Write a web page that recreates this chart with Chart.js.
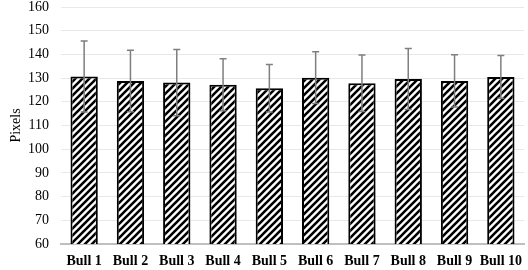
<!DOCTYPE html>
<html lang="en">
<head>
<meta charset="utf-8">
<title>Pixels per bull</title>
<script src="https://cdn.jsdelivr.net/npm/chart.js@4.4.1/dist/chart.umd.min.js"></script>
<style>
  html, body { margin: 0; padding: 0; background: #fff; }
  #wrap { position: relative; width: 528px; height: 270px; }
</style>
</head>
<body>
<div id="wrap"><canvas id="chart"></canvas></div>
<script>
// data
var bulls = ['Bull 1', 'Bull 2', 'Bull 3', 'Bull 4', 'Bull 5', 'Bull 6', 'Bull 7', 'Bull 8', 'Bull 9', 'Bull 10'];
var means = [130.7, 128.8, 128.1, 127.2, 125.7, 130.2, 127.8, 129.6, 128.8, 130.5];
var sds = [15.0, 13.0, 14.0, 11.0, 10.0, 10.9, 11.9, 12.9, 11.0, 9.0];
var yTicks = [60, 70, 80, 90, 100, 110, 120, 130, 140, 150, 160];

// hatch pattern "/" black on white
function hatch() {
  var c = document.createElement('canvas');
  c.width = 7; c.height = 7;
  var g = c.getContext('2d');
  g.fillStyle = '#fff';
  g.fillRect(0, 0, 7, 7);
  g.strokeStyle = '#000';
  g.lineWidth = 2.6;
  g.beginPath();
  g.moveTo(0, 7); g.lineTo(7, 0);
  g.moveTo(-3.5, 3.5); g.lineTo(3.5, -3.5);
  g.moveTo(3.5, 10.5); g.lineTo(10.5, 3.5);
  g.stroke();
  return g.createPattern(c, 'repeat');
}

// error bars with caps on both ends
var errorBars = {
  id: 'errorBars',
  afterDatasetsDraw: function (chart) {
    var ctx = chart.ctx;
    var y = chart.scales.y;
    var meta = chart.getDatasetMeta(0);
    ctx.save();
    ctx.strokeStyle = '#7f7f7f';
    ctx.lineWidth = 1.5;
    meta.data.forEach(function (bar, i) {
      var top = y.getPixelForValue(means[i] + sds[i]);
      var bot = y.getPixelForValue(means[i] - sds[i]);
      ctx.beginPath();
      ctx.moveTo(bar.x, top); ctx.lineTo(bar.x, bot);
      ctx.moveTo(bar.x - 3.5, top); ctx.lineTo(bar.x + 3.5, top);
      ctx.moveTo(bar.x - 3.5, bot); ctx.lineTo(bar.x + 3.5, bot);
      ctx.stroke();
    });
    ctx.restore();
  }
};

Chart.defaults.font.family = '"Liberation Serif", "Times New Roman", serif';
Chart.defaults.color = '#000';

new Chart(document.getElementById('chart'), {
  type: 'bar',
  data: {
    labels: bulls,
    datasets: [{
      data: means,
      backgroundColor: hatch(),
      borderColor: '#000',
      borderWidth: 2,
      borderSkipped: false,
      categoryPercentage: 1,
      barPercentage: 0.59
    }]
  },
  options: {
    responsive: true,
    maintainAspectRatio: false,
    animation: false,
    layout: { padding: { left: 4, right: 4, top: 7, bottom: 0 } },
    plugins: { legend: { display: false }, tooltip: { enabled: false } },
    scales: {
      x: {
        grid: { display: false, drawTicks: false },
        border: { display: true, color: '#bfbfbf', width: 2 },
        ticks: { font: { size: 14, weight: 'bold' }, padding: 9, maxRotation: 0, minRotation: 0, autoSkip: false },
        afterFit: function (s) { s.height = 26; s.paddingLeft = 0; s.paddingRight = 0; }
      },
      y: {
        min: 60, max: 160,
        afterBuildTicks: function (s) { s.ticks = yTicks.map(function (v) { return { value: v }; }); },
        grid: { color: '#e8e8e8', lineWidth: 1, drawTicks: false },
        border: { display: false },
        ticks: { font: { size: 14 }, padding: 12 },
        title: { display: true, text: 'Pixels', font: { size: 14 }, padding: 4 },
        afterFit: function (s) { s.width = 57; s.paddingTop = 0; s.paddingBottom = 0; }
      }
    }
  },
  plugins: [errorBars]
});
</script>
</body>
</html>
